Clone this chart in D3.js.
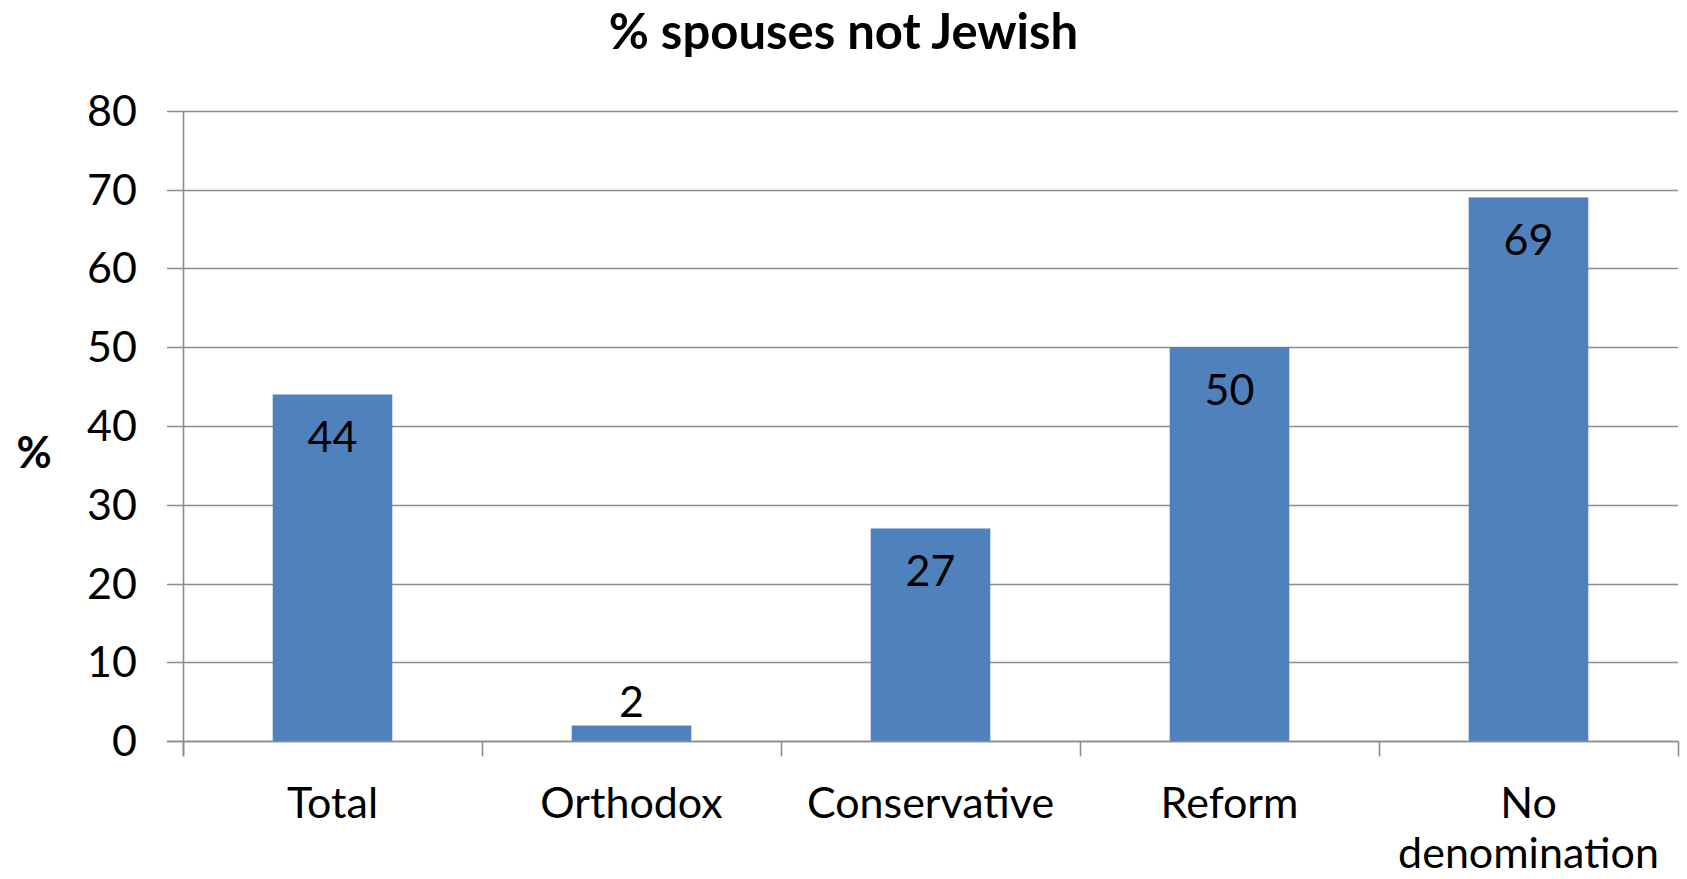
<!DOCTYPE html>
<html>
<head>
<meta charset="utf-8">
<script src="https://cdn.jsdelivr.net/npm/d3@7"></script>
<style>
  html, body { margin: 0; padding: 0; background: #ffffff; }
  svg { display: block; }
  text { font-family: Lato, "Open Sans", sans-serif; fill: #000; }
</style>
</head>
<body>
<svg id="chart" width="1687" height="879"></svg>
<script>
// ---- data ----
const categories = ["Total", "Orthodox", "Conservative", "Reform", "No denomination"];
const values = [44, 2, 27, 50, 69];
const yTicks = [0, 10, 20, 30, 40, 50, 60, 70, 80];
const titleText = "% spouses not Jewish";
const yAxisTitle = "%";

// ---- layout ----
const W = 1687, H = 879;
const plotLeft = 183, plotRight = 1678, plotTop = 110.7, plotBottom = 741.3;
const tickOut = 16;
const fontSize = 43;
const barColor = "#4F81BD";
const gridColor = "#8C8C8C";

const svg = d3.select("#chart");

const x = d3.scaleBand()
  .domain(categories)
  .range([plotLeft, plotRight])
  .paddingInner(0.6)
  .paddingOuter(0.3);

const y = d3.scaleLinear()
  .domain([0, 80])
  .range([plotBottom, plotTop]);

// gridlines (incl. outward tick)
svg.append("g")
  .selectAll("line")
  .data(yTicks)
  .join("line")
  .attr("x1", plotLeft - tickOut)
  .attr("x2", plotRight)
  .attr("y1", d => Math.round(y(d)) + 0.5)
  .attr("y2", d => Math.round(y(d)) + 0.5)
  .attr("stroke", gridColor)
  .attr("stroke-width", 1.6);

// y axis line
svg.append("line")
  .attr("x1", plotLeft + 0.5).attr("x2", plotLeft + 0.5)
  .attr("y1", y(80)).attr("y2", plotBottom + 15)
  .attr("stroke", gridColor).attr("stroke-width", 1.6);

// category boundary ticks
const step = x.step();
const bounds = d3.range(categories.length + 1).map(i => plotLeft + i * step);
svg.append("g")
  .selectAll("line")
  .data(bounds)
  .join("line")
  .attr("x1", d => Math.round(d) + 0.5)
  .attr("x2", d => Math.round(d) + 0.5)
  .attr("y1", plotBottom)
  .attr("y2", plotBottom + 15)
  .attr("stroke", gridColor)
  .attr("stroke-width", 1.6);

// y tick labels
svg.append("g")
  .selectAll("text")
  .data(yTicks)
  .join("text")
  .attr("x", 137)
  .attr("y", d => y(d) + 15)
  .attr("text-anchor", "end")
  .attr("font-size", fontSize)
  .text(d => d);

// bars
svg.append("g")
  .selectAll("rect")
  .data(values)
  .join("rect")
  .attr("x", (d, i) => x(categories[i]))
  .attr("width", x.bandwidth())
  .attr("y", d => y(d))
  .attr("height", d => y(0) - y(d))
  .attr("fill", barColor);

// redraw x axis baseline over bars
svg.append("line")
  .attr("x1", plotLeft - tickOut).attr("x2", plotRight)
  .attr("y1", Math.round(y(0)) + 0.5).attr("y2", Math.round(y(0)) + 0.5)
  .attr("stroke", gridColor).attr("stroke-width", 1.6);

// data labels
svg.append("g")
  .selectAll("text")
  .data(values)
  .join("text")
  .attr("x", (d, i) => x(categories[i]) + x.bandwidth() / 2)
  .attr("y", d => (y(0) - y(d) > 70) ? y(d) + 58 : y(d) - 9)
  .attr("text-anchor", "middle")
  .attr("font-size", fontSize)
  .text(d => d);

// category labels (wrap)
const catG = svg.append("g");
categories.forEach((c, i) => {
  const cx = x(c) + x.bandwidth() / 2;
  const lines = c === "No denomination" ? ["No", "denomination"] : [c];
  const t = catG.append("text")
    .attr("x", cx)
    .attr("y", 817.5)
    .attr("text-anchor", "middle")
    .attr("font-size", fontSize);
  lines.forEach((ln, j) => {
    t.append("tspan").attr("x", cx).attr("dy", j === 0 ? 0 : 50).text(ln);
  });
});

// title
svg.append("text")
  .attr("x", W / 2)
  .attr("y", 49)
  .attr("text-anchor", "middle")
  .attr("font-size", 49)
  .attr("font-weight", "bold")
  .text(titleText);

// y axis title
svg.append("text")
  .attr("x", 34)
  .attr("y", 468)
  .attr("text-anchor", "middle")
  .attr("font-size", fontSize)
  .attr("font-weight", "bold")
  .text(yAxisTitle);
</script>
</body>
</html>
